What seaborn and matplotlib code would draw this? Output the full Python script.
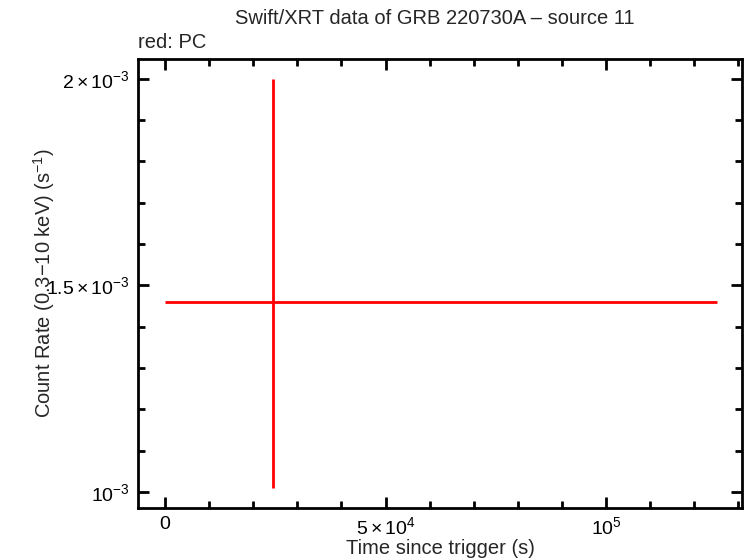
import matplotlib
matplotlib.use("Agg")
import matplotlib.pyplot as plt
import seaborn as sns
import numpy as np
from matplotlib.ticker import FixedLocator, MultipleLocator

# data
t_mid = [24490.0]
t_lo = [0.0]
t_hi = [125170.0]
rate = [0.00146]
rate_lo = [0.00101]
rate_hi = [0.00200]

xticks = [0, 50000, 100000]
xticklabels = ["0", r"$5\times10^{4}$", r"$10^{5}$"]
yticks = [0.001, 0.0015, 0.002]
yticklabels = [r"$10^{-3}$", r"$1.5\times10^{-3}$", r"$2\times10^{-3}$"]

sns.set_style("ticks")
plt.rcParams['font.family'] = ['Liberation Sans', 'DejaVu Sans']
plt.rcParams['mathtext.fontset'] = 'custom'
plt.rcParams['mathtext.rm'] = 'Liberation Sans'
plt.rcParams['mathtext.it'] = 'Liberation Sans'
plt.rcParams['mathtext.default'] = 'regular'

fig = plt.figure(figsize=(7.46, 5.58), dpi=100)
ax = fig.add_axes([138/746, 1-507.5/558, (742-138)/746, (507.5-59)/558])

xm = np.array(t_mid); y = np.array(rate)
xerr = np.vstack([xm - np.array(t_lo), np.array(t_hi) - xm])
yerr = np.vstack([y - np.array(rate_lo), np.array(rate_hi) - y])
ax.errorbar(xm, y, xerr=xerr, yerr=yerr, fmt='none', ecolor='#ff0000', elinewidth=2, capsize=0)

ax.set_xlim(-6100, 130800)
ax.set_ylim(0.000962, 0.002048)
ax.xaxis.set_major_locator(FixedLocator(xticks))
ax.set_xticklabels(xticklabels)
ax.xaxis.set_minor_locator(MultipleLocator(10000))
ax.yaxis.set_major_locator(FixedLocator(yticks))
ax.set_yticklabels(yticklabels)
ax.yaxis.set_minor_locator(MultipleLocator(0.0001))

ax.tick_params(which='both', direction='in', top=True, right=True, width=2, colors='black', labelsize=14)
ax.tick_params(which='major', length=8, pad=6)
ax.tick_params(which='minor', length=5)
for s in ax.spines.values():
    s.set_linewidth(2)
    s.set_color('black')

ax.set_xlabel("Time since trigger (s)", fontsize=14.5, labelpad=1)
ax.set_ylabel(r"Count Rate (0.3$-$10 keV) (s$^{-1}$)", fontsize=14.5, labelpad=-8)
fig.text(435/746, 1-19/558, "Swift/XRT data of GRB 220730A \u2013 source 11", ha='center', va='center', fontsize=14.5)
fig.text(138/746, 1-42/558, "red: PC", ha='left', va='center', fontsize=14.5)

fig.savefig("out.png", dpi=100)
